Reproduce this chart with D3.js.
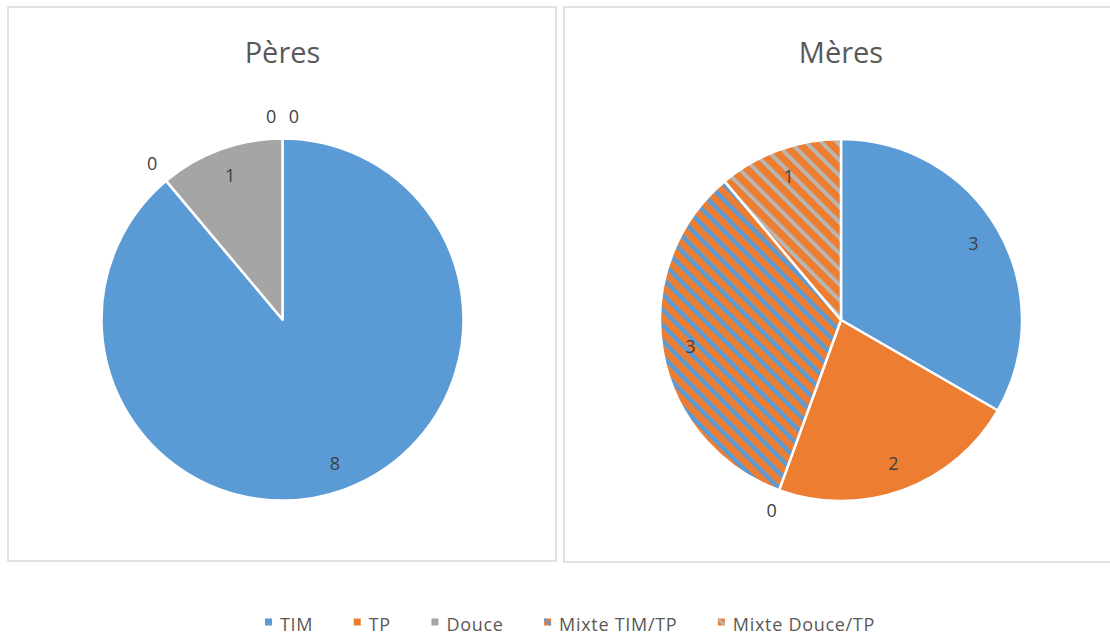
<!DOCTYPE html>
<html>
<head>
<meta charset="utf-8">
<script src="https://cdn.jsdelivr.net/npm/d3@7"></script>
<style>
  html, body { margin: 0; padding: 0; background: #ffffff; }
  svg { display: block; }
</style>
</head>
<body>
<svg id="chart" width="1110" height="638"></svg>
<script>
// ---- data ----
const categories = ["TIM", "TP", "Douce", "Mixte TIM/TP", "Mixte Douce/TP"];
const peresValues = [8, 0, 1, 0, 0];
const meresValues = [3, 2, 0, 3, 1];
const chartTitles = ["Pères", "Mères"];

// ---- styles ----
const BLUE = "#5B9BD5", ORANGE = "#ED7D31", GRAY = "#A5A5A5";

const svg = d3.select("#chart");
const W = 1110, H = 638;
svg.append("rect").attr("width", W).attr("height", H).attr("fill", "#fff");

const defs = svg.append("defs");
function stripePattern(id, bg, fg, period, stripe) {
  const p = defs.append("pattern")
    .attr("id", id)
    .attr("patternUnits", "userSpaceOnUse")
    .attr("width", period).attr("height", period)
    .attr("patternTransform", "rotate(-45)");
  p.append("rect").attr("width", period).attr("height", period).attr("fill", bg);
  p.append("rect").attr("width", stripe).attr("height", period).attr("fill", fg);
}
stripePattern("p-mtim", ORANGE, BLUE, 11, 4.4);
stripePattern("p-mdouce", ORANGE, "#B7B7B7", 11, 3.8);
const fillFor = [BLUE, ORANGE, GRAY, "url(#p-mtim)", "url(#p-mdouce)"];

// ---- panels ----
const panels = [
  { values: peresValues, title: chartTitles[0], box: [8, 7, 548, 554], cx: 282.5, cy: 319.5 },
  { values: meresValues, title: chartTitles[1], box: [564, 7, 560, 555], cx: 841, cy: 320 }
];
const R = 181;
const labelR = 153;
const zeroR = 203;

const pie = d3.pie().sort(null).value(d => d.v);
const arc = d3.arc().innerRadius(0).outerRadius(R);
const labelArc = d3.arc().innerRadius(labelR).outerRadius(labelR);

panels.forEach(pn => {
  svg.append("rect")
    .attr("x", pn.box[0]).attr("y", pn.box[1])
    .attr("width", pn.box[2]).attr("height", pn.box[3])
    .attr("fill", "#fff").attr("stroke", "#D9D9D9").attr("stroke-width", 1.5);

  svg.append("text")
    .attr("x", pn.cx).attr("y", 63)
    .attr("text-anchor", "middle")
    .attr("font-family", "'Open Sans', sans-serif")
    .attr("font-size", 29)
    .attr("fill", "#595959")
    .text(pn.title);

  const g = svg.append("g").attr("transform", `translate(${pn.cx},${pn.cy})`);
  const arcs = pie(pn.values.map((v, i) => ({ v, i })));

  g.selectAll("path.slice")
    .data(arcs.filter(a => a.data.v > 0))
    .join("path")
    .attr("class", "slice")
    .attr("d", arc)
    .attr("fill", a => fillFor[a.data.i])
    .attr("stroke", "#fff")
    .attr("stroke-width", 2.5)
    .attr("stroke-linejoin", "round");

  // labels
  const groups = d3.group(arcs.filter(a => a.data.v === 0), a => a.startAngle.toFixed(4));
  arcs.forEach(a => {
    let x, y;
    if (a.data.v > 0) {
      [x, y] = labelArc.centroid(a);
    } else {
      const grp = groups.get(a.startAngle.toFixed(4));
      const k = grp.indexOf(a);
      const spread = 3.2 * Math.PI / 180;
      let ang = a.startAngle;
      if (grp.length > 1) ang += (k - (grp.length - 1) / 2) * 2 * spread;
      x = Math.sin(ang) * zeroR;
      y = -Math.cos(ang) * zeroR;
    }
    g.append("text")
      .attr("x", x).attr("y", y)
      .attr("dy", "0.36em")
      .attr("text-anchor", "middle")
      .attr("font-family", "'Open Sans', sans-serif")
      .attr("font-size", 18)
      .attr("fill", "#404040")
      .text(a.data.v);
  });
});

// ---- legend ----
const legendG = svg.append("g");
const mSize = 7, mGap = 8;
const legendLeft = 265, legendRight = 875;
const items = [];
categories.forEach((c, i) => {
  const it = legendG.append("g");
  it.append("rect")
    .attr("x", 0).attr("y", -mSize / 2)
    .attr("width", mSize).attr("height", mSize)
    .attr("fill", i < 3 ? fillFor[i] : ORANGE);
  if (i >= 3) {
    const cid = "clip-leg-" + i;
    defs.append("clipPath").attr("id", cid)
      .append("rect").attr("x", 0).attr("y", -mSize / 2).attr("width", mSize).attr("height", mSize);
    it.append("line")
      .attr("x1", 0).attr("y1", -mSize / 2).attr("x2", mSize).attr("y2", mSize / 2)
      .attr("stroke", i === 3 ? BLUE : "#B7B7B7").attr("stroke-width", 2.6)
      .attr("clip-path", `url(#${cid})`);
  }
  const t = it.append("text")
    .attr("x", mSize + mGap).attr("y", 9)
    .attr("font-family", "'Open Sans', sans-serif")
    .attr("font-size", 18)
    .attr("letter-spacing", 0.7)
    .attr("fill", "#595959")
    .text(c);
  items.push({ g: it, w: mSize + mGap + t.node().getComputedTextLength() });
});
const textTotal = d3.sum(items, d => d.w);
const itemGap = (legendRight - legendLeft - textTotal) / (items.length - 1);
let cursor = legendLeft;
items.forEach(d => {
  d.g.attr("transform", `translate(${cursor},0)`);
  cursor += d.w + itemGap;
});
legendG.attr("transform", `translate(0,622)`);
</script>
</body>
</html>
